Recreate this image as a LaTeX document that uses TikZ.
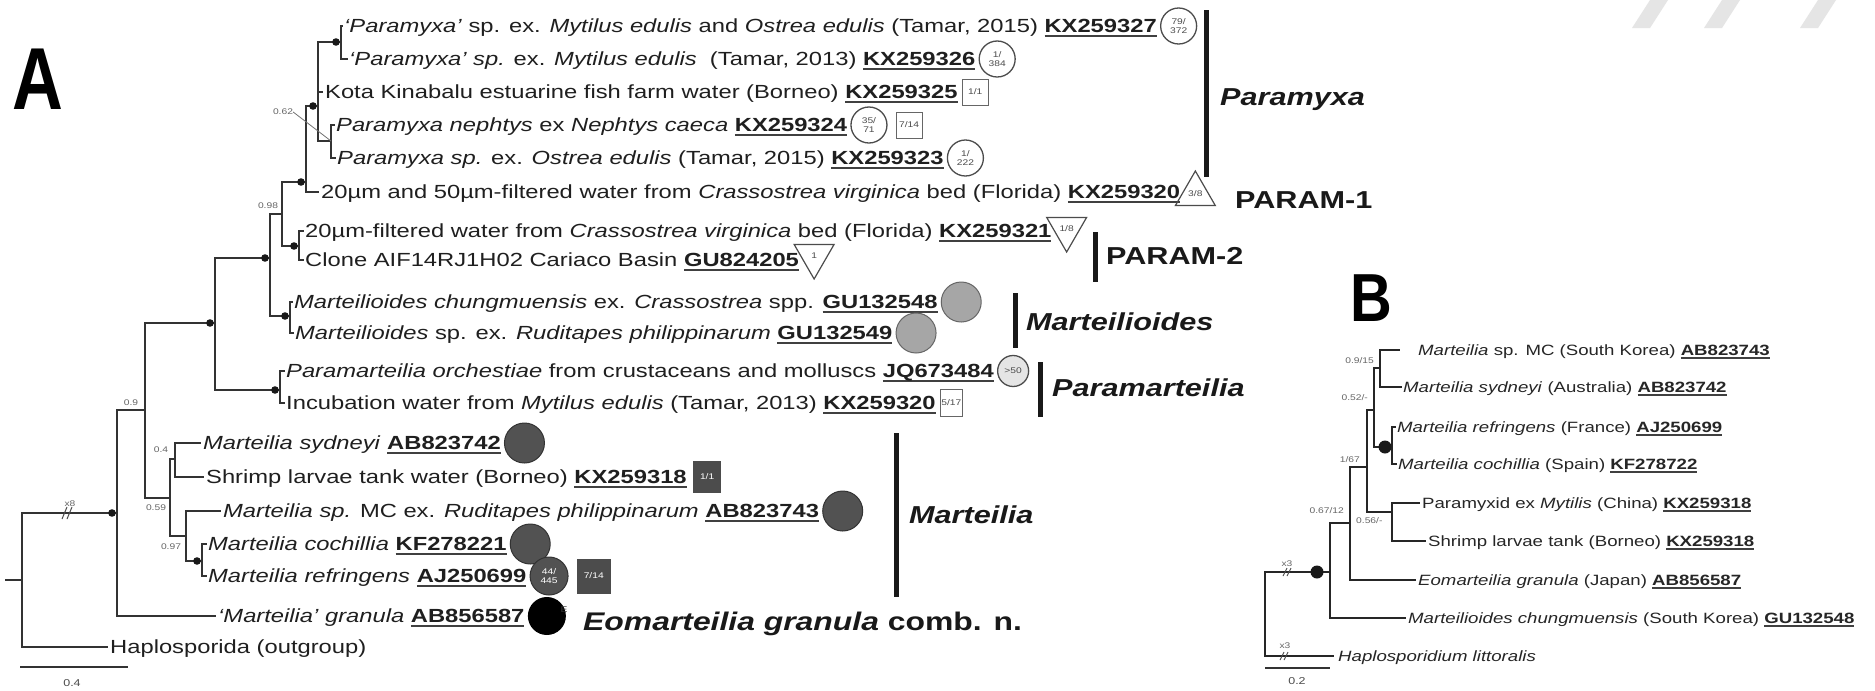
\documentclass[tikz,border=0pt]{standalone}
\usepackage{fontspec}
\setmainfont{Liberation Sans}[FakeStretch=1.25]
\newfontfamily\bigA{Liberation Sans}[FakeStretch=0.8]
\newfontfamily\bigB{Liberation Sans}[FakeStretch=0.85]
\usetikzlibrary{shapes.geometric}
\newcommand\labfont{\fontsize{19}{22}\selectfont}
\newcommand\blabfont{\fontsize{14.9}{18}\selectfont}
\newcommand\supfont{\fontsize{8.2}{9}\selectfont}
\newcommand\mysymfont{\fontsize{8.2}{9}\selectfont}
\newcommand\cladefont{\fontsize{24.5}{28}\selectfont\bfseries}
\newcommand\gid[1]{\setbox0=\hbox{\bfseries #1}\rlap{\color{black!75}\vrule width\wd0 height -0.13em depth 0.24em}\box0}
\tikzset{
  br/.style={line width=2.3pt, draw=black!80},
  bbr/.style={line width=2.8pt, draw=black!85},
  lab/.style={anchor=west, inner sep=0pt, text height=16pt, text depth=3pt, font=\labfont, text=black!88},
  blab/.style={anchor=west, inner sep=0pt, text height=13pt, text depth=2.5pt, font=\blabfont, text=black!85},
  sup/.style={inner sep=0pt, font=\supfont, text=black!60},
  ocirc/.style={circle, draw=black!70, line width=1.3pt, fill=white, minimum size=36pt, inner sep=0pt, font=\mysymfont, align=center, text=black!70},
  gcirc/.style={circle, draw=black!60, line width=1pt, fill=black!35, minimum size=40pt, inner sep=0pt},
  dcirc/.style={circle, draw=black!80, line width=1pt, fill=black!68, minimum size=40pt, inner sep=0pt, font=\mysymfont, align=center, text=white},
  bcirc/.style={circle, fill=black, minimum size=38pt, inner sep=0pt},
  obox/.style={rectangle, draw=black!60, line width=1pt, fill=white, minimum size=26pt, inner sep=0pt, font=\mysymfont, text=black!70},
  dbox/.style={rectangle, fill=black!70, minimum size=30pt, inner sep=0pt, font=\mysymfont, text=white},
  triup/.style={regular polygon, regular polygon sides=3, draw=black!70, line width=1.2pt, minimum size=46pt, inner sep=0pt, font=\mysymfont, text=black!70},
  tridn/.style={triup, shape border rotate=180},
  cbar/.style={line width=5pt, draw=black!90},
  clade/.style={anchor=west, inner sep=0pt, font=\cladefont, text=black!90},
  dot/.style={fill=black!90},
}
\begin{document}
\begin{tikzpicture}[x=1pt,y=-1pt]
\fill[white] (0,0) rectangle (1875,691);
\useasboundingbox (0,0) rectangle (1875,691);
% faint watermark marks
\fill[black!10] (1650,0) -- (1668,0) -- (1650,28) -- (1632,28) -- cycle;
\fill[black!10] (1722,0) -- (1740,0) -- (1722,28) -- (1704,28) -- cycle;
\fill[black!10] (1818,0) -- (1836,0) -- (1818,28) -- (1800,28) -- cycle;

% panel letters
\node[anchor=south west, inner sep=0pt, font=\bigA\bfseries\fontsize{88}{88}\selectfont] (letA) at (12,110) {A};
\node[anchor=south west, inner sep=0pt, font=\bigB\bfseries\fontsize{68}{68}\selectfont] (letB) at (1350,322) {B};

% ---------- Panel A labels ----------
\node[lab] (r1) at (344,26) {\textit{‘Paramyxa’} sp. ex. \textit{Mytilus edulis} and \textit{Ostrea edulis} (Tamar, 2015) \gid{KX259327}};
\node[lab] (r2) at (349,59) {\textit{‘Paramyxa’ sp.} ex. \textit{Mytilus edulis}\ \ (Tamar, 2013) \gid{KX259326}};
\node[lab] (r3) at (325,92) {Kota Kinabalu estuarine fish farm water (Borneo) \gid{KX259325}};
\node[lab] (r4) at (336,125) {\textit{Paramyxa nephtys} ex \textit{Nephtys caeca} \gid{KX259324}};
\node[lab] (r5) at (337,158) {\textit{Paramyxa sp.} ex. \textit{Ostrea edulis} (Tamar, 2015) \gid{KX259323}};
\node[lab] (r6) at (321,192) {20µm and 50µm-filtered water from \textit{Crassostrea virginica} bed (Florida) \gid{KX259320}};
\node[lab] (r7) at (305,231) {20µm-filtered water from \textit{Crassostrea virginica} bed (Florida) \gid{KX259321}};
\node[lab] (r8) at (305,260) {Clone AIF14RJ1H02 Cariaco Basin \gid{GU824205}};
\node[lab] (r9) at (294,302) {\textit{Marteilioides chungmuensis} ex. \textit{Crassostrea} spp. \gid{GU132548}};
\node[lab] (r10) at (295,333) {\textit{Marteilioides} sp. ex. \textit{Ruditapes philippinarum} \gid{GU132549}};
\node[lab] (r11) at (286,371) {\textit{Paramarteilia orchestiae} from crustaceans and molluscs \gid{JQ673484}};
\node[lab] (r12) at (286,403) {Incubation water from \textit{Mytilus edulis} (Tamar, 2013) \gid{KX259320}};
\node[lab] (r13) at (203,443) {\textit{Marteilia sydneyi} \gid{AB823742}};
\node[lab] (r14) at (206,477) {Shrimp larvae tank water (Borneo) \gid{KX259318}};
\node[lab] (r15) at (223,511) {\textit{Marteilia sp.} MC ex. \textit{Ruditapes philippinarum} \gid{AB823743}};
\node[lab] (r16) at (208,544) {\textit{Marteilia cochillia} \gid{KF278221}};
\node[lab] (r17) at (208,576) {\textit{Marteilia refringens} \gid{AJ250699}};
\node[lab] (r18) at (218,616) {\textit{‘Marteilia’ granula} \gid{AB856587}};
\node[lab] (r19) at (110,647) {Haplosporida (outgroup)};

% symbols
\node[ocirc, anchor=west] (s1) at ([xshift=3pt]r1.east) {79/\\372};
\node[ocirc, anchor=west] (s2) at ([xshift=3pt]r2.east) {1/\\384};
\node[obox, anchor=west] (s3) at ([xshift=4pt]r3.east) {1/1};
\node[ocirc, anchor=west] (s4) at ([xshift=3pt]r4.east) {35/\\71};
\node[obox, anchor=west] (s4b) at ([xshift=8pt]s4.east) {7/14};
\node[ocirc, anchor=west] (s5) at ([xshift=3pt]r5.east) {1/\\222};
\node[triup, anchor=west] (s6) at ([xshift=1pt,yshift=-2pt]r6.east) {3/8};
\node[tridn, anchor=west] (s7) at ([xshift=1pt,yshift=2pt]r7.east) {1/8};
\node[tridn, anchor=west] (s8) at ([xshift=1pt,yshift=4pt]r8.east) {1};
\node[gcirc, anchor=west] (s9) at ([xshift=3pt]r9.east) {};
\node[gcirc, anchor=west] (s10) at ([xshift=3pt]r10.east) {};
\node[ocirc, anchor=west, minimum size=31pt, fill=black!10] (s11) at ([xshift=3pt]r11.east) {>50};
\node[obox, anchor=west, minimum width=22pt, minimum height=27pt] (s12) at ([xshift=4pt]r12.east) {5/17};
\node[dcirc, anchor=west] (s13) at ([xshift=3pt]r13.east) {};
\node[dbox, anchor=west, minimum width=28pt, minimum height=32pt] (s14) at ([xshift=6pt]r14.east) {1/1};
\node[dcirc, anchor=west] (s15) at ([xshift=3pt]r15.east) {};
\node[dcirc, anchor=west] (s16) at ([xshift=3pt]r16.east) {};
\node[dcirc, anchor=west, minimum size=38pt] (s17) at ([xshift=3pt]r17.east) {44/\\445};
\node[dbox, anchor=west, minimum width=34pt, minimum height=35pt] (s17b) at ([xshift=8pt]s17.east) {7/14};
\node[bcirc, anchor=west] (s18) at ([xshift=3pt]r18.east) {};
\node[sup, anchor=south west, text=black!80] (s18e) at ([xshift=0pt,yshift=-10pt]s18.north east) {E};
\node[anchor=west, inner sep=0pt, font=\fontsize{25.5}{30}\selectfont\bfseries, text=black!90] (eom) at (583,624) {\textit{Eomarteilia granula} comb. n.};

% clade bars and labels
\draw[cbar] (1206,10) -- (1206,177);
\node[clade] (c1) at (1220,100) {\itshape Paramyxa};
\node[clade] (c2) at (1235,200) {PARAM-1};
\draw[cbar] (1095,232) -- (1095,282);
\node[clade] (c3) at (1106,256) {PARAM-2};
\draw[cbar] (1015,293) -- (1015,348);
\node[clade] (c4) at (1026,322) {\itshape Marteilioides};
\draw[cbar] (1040,362) -- (1040,417);
\node[clade] (c5) at (1052,388) {\itshape Paramarteilia};
\draw[cbar] (896,433) -- (896,597);
\node[clade] (c6) at (909,515) {\itshape Marteilia};

% ---------- Panel A tree ----------
\coordinate (a0) at (5,580);
\coordinate (R0) at (22,580);
\coordinate (I) at (117,513);
\coordinate (U) at (145,410);
\coordinate (P) at (215,323);
\coordinate (Q) at (270,258);
\coordinate (R) at (282,214);
\coordinate (S) at (306,182);
\coordinate (T) at (318,106);
\coordinate (P12) at (341,42);
\coordinate (P45) at (331,141);
\coordinate (PA2) at (299,246);
\coordinate (MO) at (290,316);
\coordinate (PM) at (280,390);
\coordinate (MA) at (170,498);
\coordinate (SS) at (175,459);
\coordinate (L) at (186,536);
\coordinate (CR) at (202,561);

\draw[br] (a0) -- (R0);
\draw[br] (R0) |- (I);
\draw[br] (R0) |- ([xshift=-2pt]r19.west);
\draw[br] (I) |- (U);
\draw[br] (I) |- ([xshift=-2pt]r18.west);
\draw[br] (U) |- (P);
\draw[br] (U) |- (MA);
\draw[br] (P) |- (Q);
\draw[br] (P) |- (PM);
\draw[br] (Q) |- (R);
\draw[br] (Q) |- (MO);
\draw[br] (R) |- (S);
\draw[br] (R) |- (PA2);
\draw[br] (S) |- (T);
\draw[br] (S) |- ([xshift=-2pt]r6.west);
\draw[br] (T) |- (P12);
\draw[br] (T) |- ([xshift=-2pt]r3.west);
\draw[br] (T) |- (P45);
\draw[br] (P12) |- ([xshift=-1pt]r1.west);
\draw[br] (P12) |- ([xshift=-1pt]r2.west);
\draw[br] (P45) |- ([xshift=-1pt]r4.west);
\draw[br] (P45) |- ([xshift=-1pt]r5.west);
\draw[br] (PA2) |- ([xshift=-1pt]r7.west);
\draw[br] (PA2) |- ([xshift=-1pt]r8.west);
\draw[br] (MO) |- ([xshift=-1pt]r9.west);
\draw[br] (MO) |- ([xshift=-1pt]r10.west);
\draw[br] (PM) |- ([xshift=-1pt]r11.west);
\draw[br] (PM) |- ([xshift=-1pt]r12.west);
\draw[br] (MA) |- (SS);
\draw[br] (MA) |- (L);
\draw[br] (SS) |- ([xshift=-2pt]r13.west);
\draw[br] (SS) |- ([xshift=-2pt]r14.west);
\draw[br] (L) |- ([xshift=-2pt]r15.west);
\draw[br] (L) |- (CR);
\draw[br] (CR) |- ([xshift=-1pt]r16.west);
\draw[br] (CR) |- ([xshift=-1pt]r17.west);

\foreach \n in {I,P,Q,S,T,P12,PA2,MO,PM,CR}
  \fill[dot] ([xshift=-5pt]\n) circle (3.8);

% support values
\node[sup] (l062) at (283,112) {0.62};
\draw[black!55, line width=0.8pt] (l062.east) -- (P45);
\node[sup] (l098) at (268,206) {0.98};
\node[sup] (l09) at (131,403) {0.9};
\node[sup] (l04) at (161,450) {0.4};
\node[sup] (l059) at (156,508) {0.59};
\node[sup] (l097) at (171,547) {0.97};
\node[sup] (lx8) at (70,504) {x8};
\draw[black!70, line width=1pt] (62,519) -- (67,507) (67,519) -- (72,507);

% scale bar A
\draw[line width=2pt, black!80] (20,667) -- (128,667);
\node[sup, text=black!70, font=\fontsize{10}{11}\selectfont] (sa) at (72,683) {0.4};

% ---------- Panel B ----------
\node[blab] (b1) at (1418,350) {\textit{Marteilia} sp. MC (South Korea) \gid{AB823743}};
\node[blab] (b2) at (1403,387) {\textit{Marteilia sydneyi} (Australia) \gid{AB823742}};
\node[blab] (b3) at (1397,427) {\textit{Marteilia refringens} (France) \gid{AJ250699}};
\node[blab] (b4) at (1398,464) {\textit{Marteilia cochillia} (Spain) \gid{KF278722}};
\node[blab] (b5) at (1422,503) {Paramyxid ex \textit{Mytilis} (China) \gid{KX259318}};
\node[blab] (b6) at (1428,541) {Shrimp larvae tank (Borneo) \gid{KX259318}};
\node[blab] (b7) at (1418,580) {\textit{Eomarteilia granula} (Japan) \gid{AB856587}};
\node[blab] (b8) at (1408,618) {\textit{Marteilioides chungmuensis} (South Korea) \gid{GU132548}};
\node[blab] (b9) at (1338,656) {\textit{Haplosporidium littoralis}};

\coordinate (B0) at (1265,614);
\coordinate (N1) at (1330,572);
\coordinate (N2) at (1350,523);
\coordinate (N3) at (1367,467);
\coordinate (N5) at (1374,410);
\coordinate (N6) at (1380,368);
\coordinate (N7) at (1392,447);
\coordinate (N4) at (1392,512);

\draw[bbr] (B0) |- (N1);
\draw[bbr] (B0) |- ([xshift=-4pt]b9.west);
\draw[bbr] (N1) |- (N2);
\draw[bbr] (N1) |- ([xshift=-2pt]b8.west);
\draw[bbr] (N2) |- (N3);
\draw[bbr] (N2) |- ([xshift=-2pt]b7.west);
\draw[bbr] (N3) |- (N5);
\draw[bbr] (N3) |- (N4);
\draw[bbr] (N5) |- (N6);
\draw[bbr] (N5) |- (N7);
\draw[bbr] (N6) |- ([xshift=-18pt]b1.west);
\draw[bbr] (N6) |- ([xshift=-1pt]b2.west);
\draw[bbr] (N7) |- ([xshift=-1pt]b3.west);
\draw[bbr] (N7) |- ([xshift=-1pt]b4.west);
\draw[bbr] (N4) |- ([xshift=-2pt]b5.west);
\draw[bbr] (N4) |- ([xshift=-2pt]b6.west);
\fill[dot] ([xshift=-13pt]N1) circle (6.5);
\fill[dot] ([xshift=-7pt]N7) circle (6.5);

\node[sup, anchor=east] (m1) at (1374,361) {0.9/15};
\node[sup, anchor=east] (m2) at (1368,398) {0.52/-};
\node[sup, anchor=east] (m3) at (1360,460) {1/67};
\node[sup, anchor=east] (m4) at (1344,511) {0.67/12};
\node[sup, anchor=west] (m5) at (1356,521) {0.56/-};
\node[sup] (m6) at (1287,564) {x3};
\node[sup] (m7) at (1285,646) {x3};
\draw[black!70, line width=0.9pt] (1283,576) -- (1287,568) (1287,576) -- (1291,568);
\draw[black!70, line width=0.9pt] (1280,660) -- (1284,652) (1284,660) -- (1288,652);

\draw[line width=2pt, black!80] (1265,668) -- (1330,668);
\node[sup, text=black!70, font=\fontsize{10}{11}\selectfont] (sb) at (1297,681) {0.2};
\end{tikzpicture}
\end{document}
